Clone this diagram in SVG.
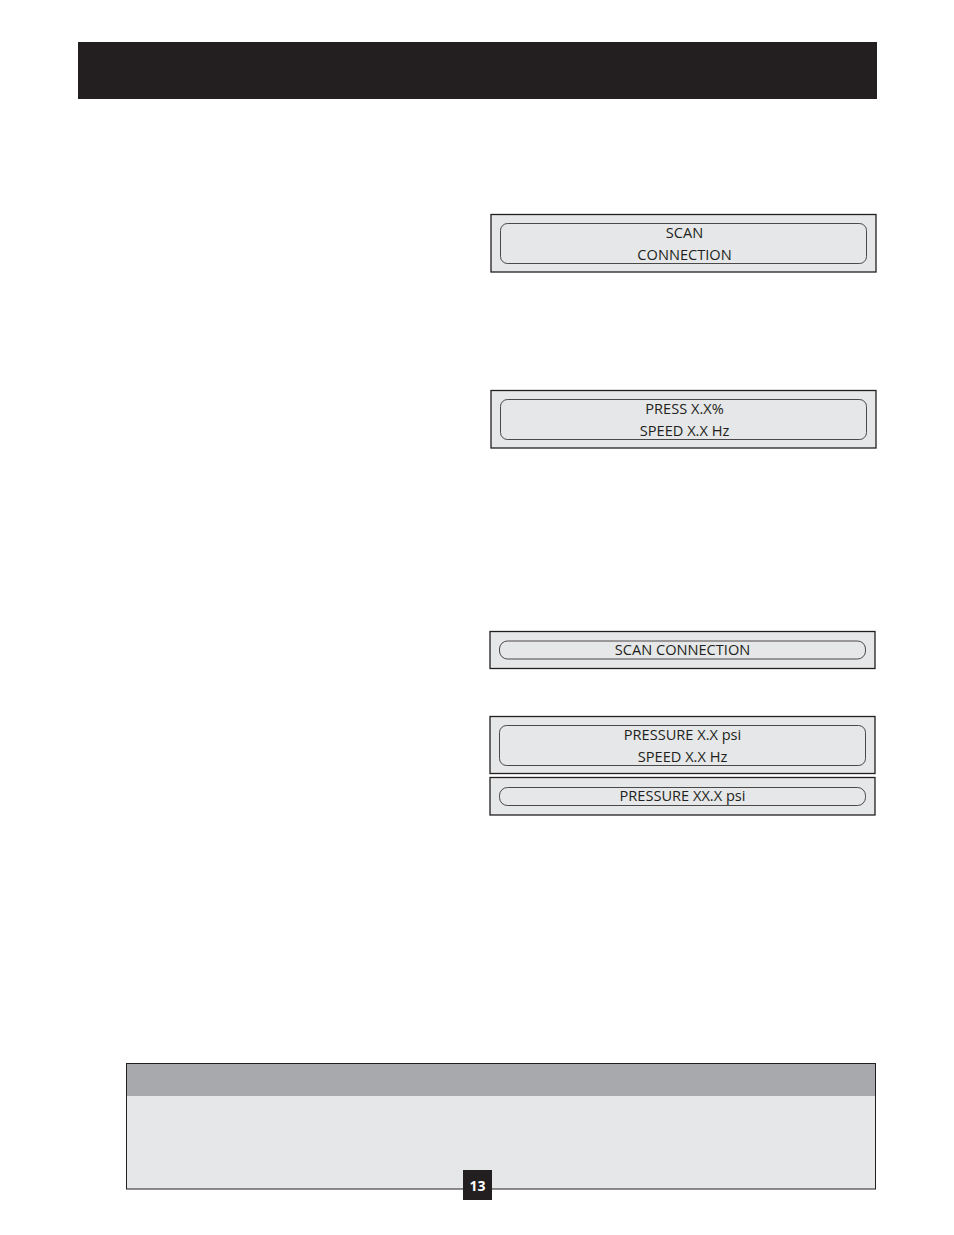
<svg xmlns="http://www.w3.org/2000/svg" width="954" height="1235" viewBox="0 0 954 1235">
<style>
.outer{fill:#e6e7e8;stroke:#231f20;stroke-width:1.3}
.inner{fill:#e6e7e8;stroke:#231f20;stroke-width:0.8}
.t{font-family:"Open Sans","Noto Sans","Liberation Sans",sans-serif;font-size:14.6px;fill:#231f20;text-anchor:middle}
</style>
<rect x="0" y="0" width="954" height="1235" fill="#ffffff"/>
<rect id="header" x="78" y="42" width="799" height="57" fill="#231f20"/>
<g id="box1">
<rect class="outer" x="491" y="214.5" width="385" height="57.5"/>
<rect class="inner" x="500.5" y="223.5" width="366" height="40" rx="7"/>
<text class="t" x="684.5" y="237.5">SCAN</text>
<text class="t" x="684.5" y="259.5">CONNECTION</text>
</g>
<g id="box2">
<rect class="outer" x="491" y="390.5" width="385" height="57.5"/>
<rect class="inner" x="500.5" y="399.5" width="366" height="40" rx="7"/>
<text class="t" x="684.5" y="413.5">PRESS X.X%</text>
<text class="t" x="684.5" y="435.5">SPEED X.X Hz</text>
</g>
<g id="box3">
<rect class="outer" x="490" y="631.5" width="385" height="37"/>
<rect class="inner" x="499.5" y="641" width="366" height="18" rx="8"/>
<text class="t" x="682.5" y="654.5">SCAN CONNECTION</text>
</g>
<g id="box4">
<rect class="outer" x="490" y="716.5" width="385" height="57"/>
<rect class="inner" x="499.5" y="725.5" width="366" height="40" rx="7"/>
<text class="t" x="682.5" y="739.5">PRESSURE X.X psi</text>
<text class="t" x="682.5" y="761.5">SPEED X.X Hz</text>
</g>
<g id="box5">
<rect class="outer" x="490" y="777.5" width="385" height="37.5"/>
<rect class="inner" x="499.5" y="787.5" width="366" height="18" rx="8"/>
<text class="t" x="682.5" y="800.5">PRESSURE XX.X psi</text>
</g>
<g id="note">
<rect x="126.5" y="1063.5" width="749" height="125.5" fill="#e6e7e9" stroke="#231f20" stroke-width="1"/>
<rect x="127" y="1064" width="748" height="32" fill="#a7a9ac"/>
</g>
<g id="page">
<rect x="463" y="1170" width="29" height="30" fill="#231f20"/>
<text x="477.5" y="1191" font-family="'Open Sans','Noto Sans','Liberation Sans',sans-serif" font-size="14" font-weight="bold" fill="#ffffff" text-anchor="middle">13</text>
</g>
<g id="connectors"></g>
</svg>
